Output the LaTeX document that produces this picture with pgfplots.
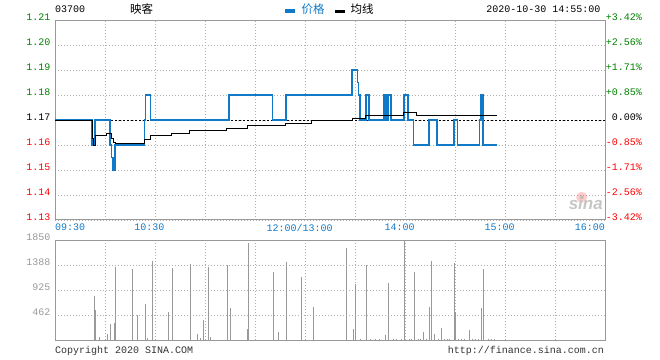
\documentclass[border=0pt]{standalone}
\usepackage{pgfplots}
\pgfplotsset{compat=1.18}
\usepackage{fontspec}
\setmainfont{Liberation Mono}
\newfontfamily\cjk{Noto Sans CJK SC}
\newfontfamily\sinafont{Liberation Sans}
\definecolor{pblue}{RGB}{16,122,200}
\definecolor{pgreen}{RGB}{0,128,0}
\definecolor{pred}{RGB}{255,0,0}
\definecolor{bgray}{RGB}{153,153,153}
\definecolor{ggray}{RGB}{175,175,175}
\newcommand\lab[2]{\mbox{\fontsize{10bp}{12bp}\selectfont\color{#1}#2}}
\pgfplotsset{
  chartgrid/.style={
    scale only axis, xmin=0, xmax=330, width=550bp,
    axis line style={bgray, line width=1bp},
    major tick length=0pt,
    grid=major,
    major grid style={ggray, line width=0.8bp, dash pattern=on 1bp off 2bp},
    xtick={30,60,...,300}, xticklabels={},
    yticklabel style={anchor=east, inner sep=0pt, xshift=-4.3bp, yshift=3bp},
  }
}
\begin{document}
\begin{tikzpicture}
\useasboundingbox (0,0) rectangle (660bp,360bp);
% ---------- price panel ----------
\begin{axis}[chartgrid, at={(55bp,140bp)}, anchor=south west, height=200bp,
  ymin=1.13, ymax=1.21,
  ytick={1.13,1.14,1.15,1.16,1.17,1.18,1.19,1.20,1.21},
  yticklabels={\lab{pred}{1.13},\lab{pred}{1.14},\lab{pred}{1.15},\lab{pred}{1.16},\lab{black}{1.17},\lab{pgreen}{1.18},\lab{pgreen}{1.19},\lab{pgreen}{1.20},\lab{pgreen}{1.21}}]
\addplot[black, line width=0.8bp, dash pattern=on 2bp off 2bp] coordinates {(0,1.17) (330,1.17)};
\addplot[pblue, line width=1.2bp, const plot] table {
x y
0 1.17
22.2 1.16
24 1.17
33 1.16
34 1.155
34.8 1.15
36 1.16
53.7 1.17
54.3 1.18
57.3 1.17
104.4 1.18
130.5 1.17
138.6 1.18
178.2 1.19
181.5 1.185
182.1 1.18
183 1.17
186.6 1.18
188.4 1.17
197.4 1.18
198.6 1.17
199.8 1.18
201.6 1.17
209.4 1.18
211.8 1.17
215.1 1.16
224.4 1.17
229.2 1.16
239.4 1.17
241.5 1.16
254.7 1.17
255.6 1.18
256.8 1.16
265 1.16
};
\addplot[black, line width=1bp, const plot] table {
x y
0 1.17
22.2 1.1625
23.2 1.160
24 1.1637
31 1.1648
33 1.1645
34 1.1625
35 1.161
36 1.1608
53.6 1.1621
57 1.1638
69.6 1.1645
80.6 1.1657
103 1.1668
115.4 1.1677
138.4 1.1687
154 1.1697
178.4 1.1707
186 1.172
209 1.1729
217 1.172
265 1.172
};
\end{axis}
% ---------- volume panel ----------
\begin{axis}[chartgrid, at={(55bp,20bp)}, anchor=south west, height=100bp,
  ymin=0, ymax=1850,
  ytick={462,925,1388,1850},
  yticklabels={\lab{bgray}{462},\lab{bgray}{925},\lab{bgray}{1388},\lab{bgray}{1850}}]
\addplot[ycomb, bgray, line width=1bp] table {
x y
23.6 814
24.2 555
26.6 61
31.4 111
33.2 296
35.6 315
36.4 1350
46.4 1313
49.4 462
54.2 666
55.4 37
58.4 1461
68 518
70.4 1332
81.2 1406
85.4 111
87.2 37
89 370
92 1350
93.2 55
103.4 1388
105.2 592
115.4 204
116 1800
131 1264
134 148
138.8 1449
147.8 1171
155 617
174.8 1708
179 204
180.2 1036
183.4 18
186.8 1388
189.4 18
192.4 18
194.6 18
198.2 92
200 1054
203 18
205 18
207.8 18
209.6 1850
212.4 18
213.6 18
215.6 1258
218 18
219.2 18
221 148
222.8 18
224.6 610
225.8 1461
227.6 111
230 18
231.8 222
233.6 18
235.2 18
236.4 18
239.6 1425
240.4 518
242 18
243.8 18
245.6 18
248.6 185
250.4 18
252.2 18
254 18
255.8 592
257 1313
260 18
261.8 18
263.6 18
};
\end{axis}
% ---------- right-hand percentage labels ----------
\foreach \yy/\tt/\cc in {340/+3.42\%/pgreen, 315/+2.56\%/pgreen, 290/+1.71\%/pgreen, 265/+0.85\%/pgreen, 240/0.00\%/black, 215/-0.85\%/pred, 190/-1.71\%/pred, 165/-2.56\%/pred, 140/-3.42\%/pred}
  \node[anchor=east, inner sep=0pt] at (642bp,\yy bp+3bp) {\lab{\cc}{\tt}};
% ---------- time labels ----------
\node[anchor=west, inner sep=0pt] at (55bp,132.5bp) {\lab{pblue}{09:30}};
\node[inner sep=0pt] at (149.5bp,132.5bp) {\lab{pblue}{10:30}};
\node[inner sep=0pt] at (299.7bp,132.5bp) {\lab{pblue}{12:00/13:00}};
\node[inner sep=0pt] at (399.5bp,132.5bp) {\lab{pblue}{14:00}};
\node[inner sep=0pt] at (499.5bp,132.5bp) {\lab{pblue}{15:00}};
\node[anchor=east, inner sep=0pt] at (605bp,132.5bp) {\lab{pblue}{16:00}};
% ---------- header ----------
\node[anchor=base west, inner sep=0pt] at (55bp,347.7bp) {\lab{black}{03700}};
\node[anchor=west, inner sep=0pt] at (130bp,351bp) {\cjk\fontsize{11.5bp}{13bp}\selectfont 映客};
\fill[pblue] (285bp,347.3bp) rectangle (295bp,350.7bp);
\node[anchor=west, inner sep=0pt] at (301.5bp,350.5bp) {\cjk\fontsize{11.5bp}{13bp}\selectfont\color{pblue}价格};
\fill[black] (335bp,347.3bp) rectangle (345bp,350.3bp);
\node[anchor=west, inner sep=0pt] at (350.5bp,350.5bp) {\cjk\fontsize{11.5bp}{13bp}\selectfont 均线};
\node[anchor=base east, inner sep=0pt] at (600.7bp,347.3bp) {\lab{black}{2020-10-30 14:55:00}};
% ---------- footer ----------
\node[anchor=base west, inner sep=0pt] at (55bp,7bp) {\lab{black!80}{Copyright 2020 SINA.COM}};
\node[anchor=base east, inner sep=0pt] at (604bp,6.7bp) {\lab{black!80}{http://finance.sina.com.cn}};
% ---------- watermark ----------
\fill[red!60, opacity=0.35] (581.7bp,162.7bp) circle (5.5bp);
\fill[gray!70, opacity=0.6] (581.7bp,162.7bp) circle (2bp);
\node[anchor=base east, inner sep=0pt, text=gray!45] at (603bp,150bp) {\sinafont\bfseries\itshape\fontsize{17bp}{18bp}\selectfont sina};
\end{tikzpicture}
\end{document}
